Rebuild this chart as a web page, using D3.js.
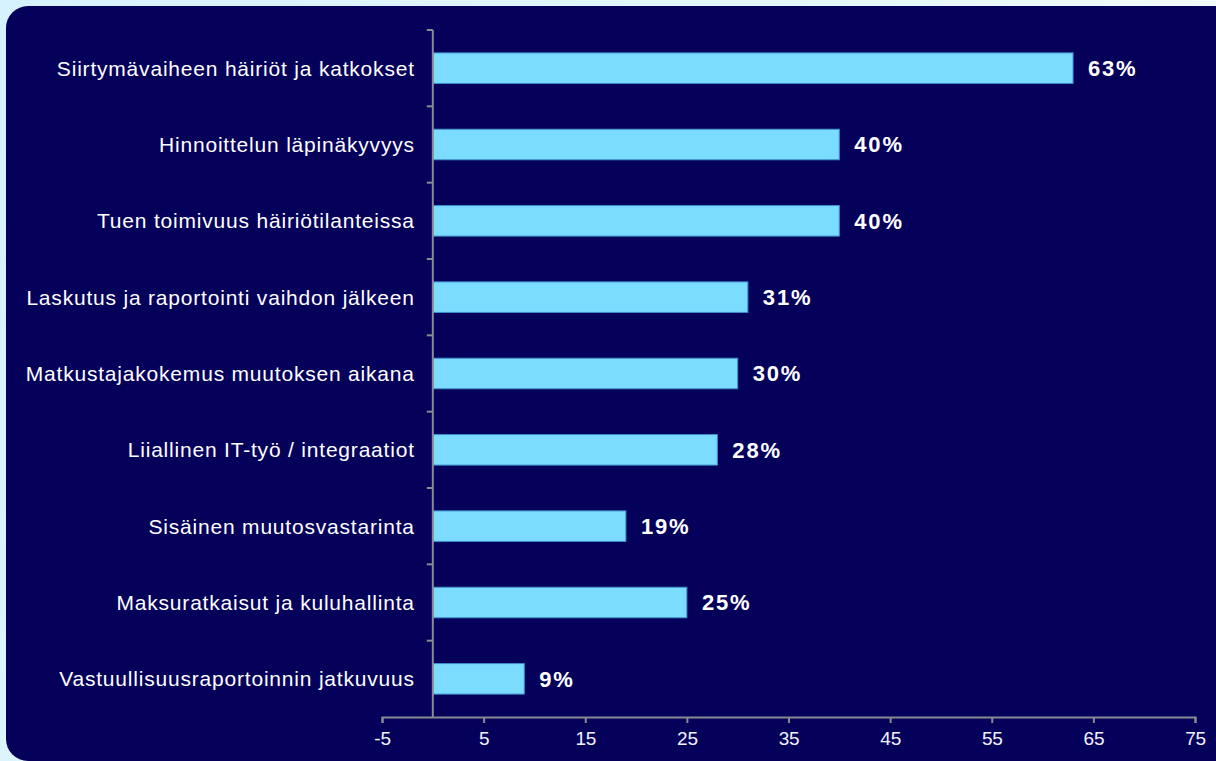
<!DOCTYPE html>
<html>
<head>
<meta charset="utf-8">
<script src="https://cdn.jsdelivr.net/npm/d3@7"></script>
<style>
  html, body { margin: 0; padding: 0; }
  body { width: 1216px; height: 761px; overflow: hidden; background: #d9f3ff; }
</style>
</head>
<body>
<svg id="chart" width="1216" height="761"></svg>
<script>
// categories + values
const categories = [
  "Siirtymävaiheen häiriöt ja katkokset",
  "Hinnoittelun läpinäkyvyys",
  "Tuen toimivuus häiriötilanteissa",
  "Laskutus ja raportointi vaihdon jälkeen",
  "Matkustajakokemus muutoksen aikana",
  "Liiallinen IT-työ / integraatiot",
  "Sisäinen muutosvastarinta",
  "Maksuratkaisut ja kuluhallinta",
  "Vastuullisuusraportoinnin jatkuvuus"
];
const values = [63, 40, 40, 31, 30, 28, 19, 25, 9];
const xTicks = [-5, 5, 15, 25, 35, 45, 55, 65, 75];

const svg = d3.select("#chart");

// background + panel
const defs = svg.append("defs");
const grad = defs.append("linearGradient").attr("id", "bg")
  .attr("x1", "0").attr("y1", "0").attr("x2", "1").attr("y2", "0.3");
grad.append("stop").attr("offset", "0").attr("stop-color", "#d6f2ff");
grad.append("stop").attr("offset", "0.6").attr("stop-color", "#e4f7ff");
grad.append("stop").attr("offset", "1").attr("stop-color", "#f6fcff");
svg.append("rect").attr("width", 1216).attr("height", 761).attr("fill", "url(#bg)");

svg.append("rect")
  .attr("x", 6).attr("y", 6)
  .attr("width", 1260).attr("height", 755)
  .attr("rx", 22).attr("ry", 22)
  .attr("fill", "#05015a");

const margin = { top: 30, left: 382, right: 21, bottom: 44 };
const width = 1216 - margin.left - margin.right;
const height = 761 - margin.top - margin.bottom;

const g = svg.append("g")
  .attr("transform", "translate(" + margin.left + "," + margin.top + ")");

const x = d3.scaleLinear().domain([-5, 75]).range([0, width]);
const y = d3.scaleBand().domain(categories).range([0, height]).paddingInner(0.6).paddingOuter(0.3);

const axisColor = "#8a8a95";

// bars
g.selectAll("rect.bar")
  .data(values)
  .join("rect")
  .attr("class", "bar")
  .attr("x", x(0))
  .attr("y", (d, i) => y(categories[i]))
  .attr("width", d => x(d) - x(0))
  .attr("height", y.bandwidth())
  .attr("fill", "#7bdcff")
  .attr("stroke", "#3f8fcc")
  .attr("stroke-width", 1);

// value labels
g.selectAll("text.val")
  .data(values)
  .join("text")
  .attr("class", "val")
  .attr("x", d => x(d) + 15)
  .attr("y", (d, i) => y(categories[i]) + y.bandwidth() / 2)
  .attr("dy", "0.36em")
  .attr("fill", "#ffffff")
  .attr("font-family", "Liberation Sans, Arial, sans-serif")
  .attr("font-weight", "bold")
  .attr("font-size", 22)
  .attr("letter-spacing", "1.8px")
  .text(d => d + "%");

// x axis
const xAxis = g.append("g")
  .attr("transform", "translate(0," + height + ")")
  .call(d3.axisBottom(x).tickValues(xTicks).tickFormat(d => String(d))
    .tickSize(6).tickSizeOuter(6).tickPadding(9));
xAxis.select(".domain").attr("stroke", axisColor).attr("stroke-width", 2);
xAxis.selectAll(".tick line").attr("stroke", axisColor).attr("stroke-width", 2);
xAxis.selectAll(".tick text")
  .attr("fill", "#f2f2ff")
  .attr("font-family", "Liberation Sans, Arial, sans-serif")
  .attr("font-size", 19)
  .attr("letter-spacing", "-0.3px");

// y axis at x = 0, ticks at category boundaries
const yLine = g.append("g").attr("transform", "translate(" + x(0) + ",0)");
yLine.append("line")
  .attr("y1", 0).attr("y2", height)
  .attr("stroke", axisColor).attr("stroke-width", 2);
const step = y.step();
const boundaries = d3.range(categories.length).map(i => i * step);
yLine.selectAll("line.tk")
  .data(boundaries)
  .join("line")
  .attr("class", "tk")
  .attr("x1", -6).attr("x2", 0)
  .attr("y1", d => d).attr("y2", d => d)
  .attr("stroke", axisColor).attr("stroke-width", 2);

// category labels
g.selectAll("text.cat")
  .data(categories)
  .join("text")
  .attr("class", "cat")
  .attr("x", x(0) - 18)
  .attr("y", d => y(d) + y.bandwidth() / 2)
  .attr("dy", "0.36em")
  .attr("text-anchor", "end")
  .attr("fill", "#ffffff")
  .attr("font-family", "Liberation Sans, Arial, sans-serif")
  .attr("font-size", 21)
  .attr("letter-spacing", "0.8px")
  .text(d => d);
</script>
</body>
</html>
